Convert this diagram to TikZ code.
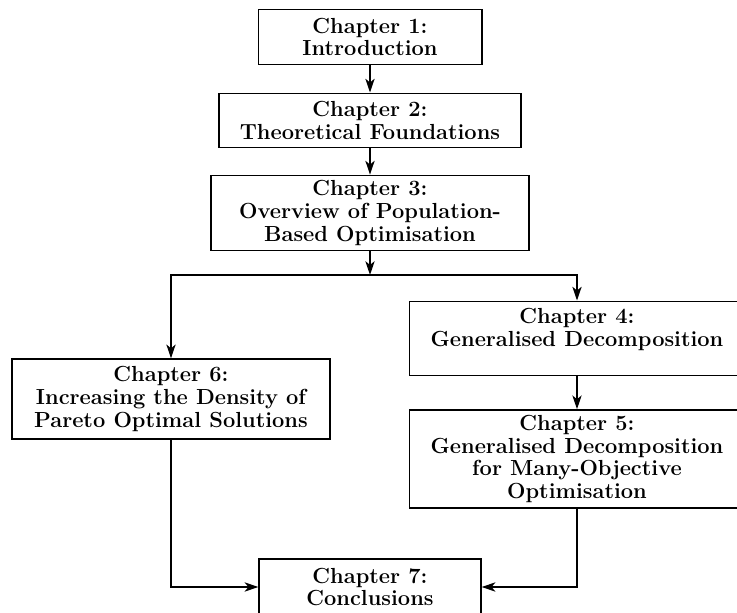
\documentclass[tikz,border=0pt]{standalone}
\usetikzlibrary{arrows.meta,positioning}
\tikzstyle{chapter} = [draw=black, line width=0.75pt, align=center,
font=\bfseries\fontsize{12}{12.4}\selectfont, inner sep=3pt]
\tikzstyle{arrow} = [line width=1.3pt,-{Stealth[length=7.5pt,width=5pt,inset=2pt]}]
\begin{document}
\begin{tikzpicture}[x=0.55pt, y=-0.55pt]
    \clip (0,0) rectangle (737,613);
    % chapter boxes
    \node[chapter, minimum width=123pt, minimum height=30pt] (ch1) at (370,37)
        {Chapter 1:\\Introduction};
    \node[chapter, minimum width=166pt, minimum height=30pt] (ch2) at (370,120.5)
        {Chapter 2:\\Theoretical Foundations};
    \node[chapter, minimum width=175pt, minimum height=41pt] (ch3) at (370,213)
        {Chapter 3:\\Overview of Population-\\Based Optimisation};
    \node[chapter, minimum width=184pt, minimum height=41pt] (ch4) at (577,338.5)
        {Chapter 4:\\Generalised Decomposition\\~};
    \node[chapter, minimum width=184pt, minimum height=54pt] (ch5) at (577,459)
        {Chapter 5:\\Generalised Decomposition\\for Many-Objective\\Optimisation};
    \node[chapter, minimum width=175pt, minimum height=44pt] (ch6) at (171,399)
        {Chapter 6:\\Increasing the Density of\\Pareto Optimal Solutions};
    \node[chapter, minimum width=122pt, minimum height=31pt] (ch7) at (370,587)
        {Chapter 7:\\Conclusions};
    \coordinate (split) at (370,275);
    % connectors
    \draw[arrow] (ch1) -- (ch2);
    \draw[arrow] (ch2) -- (ch3);
    \draw[arrow] (ch3) -- (split);
    \draw[arrow] (split) -| (ch6.north);
    \draw[arrow] (split) -| (ch4.north);
    \draw[arrow] (ch4) -- (ch5);
    \draw[arrow] (ch6.south) |- (ch7.west);
    \draw[arrow] (ch5.south) |- (ch7.east);
\end{tikzpicture}
\end{document}
